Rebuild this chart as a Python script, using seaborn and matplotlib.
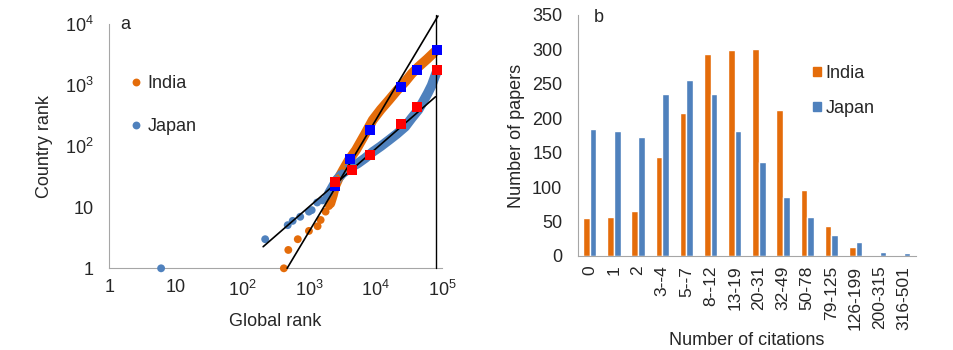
import matplotlib
matplotlib.use("Agg")
import matplotlib.pyplot as plt
import seaborn as sns
import pandas as pd
from matplotlib.patches import Patch

# Colours and fonts, Excel-like look
ORANGE = "#E46C0A"
BLUE = "#4F81BD"
GREY = "#A6A6A6"

sns.set_style("white")
plt.rcParams['font.family'] = ['Liberation Sans', 'DejaVu Sans']
plt.rcParams['mathtext.default'] = 'regular'
FS = 13

# ---- panel a : country rank vs global rank ----
india_sparse_x = [420, 490, 680, 1000, 1350, 1500, 1780, 2000]
india_sparse_y = [1, 2, 3, 4.1, 4.9, 6.2, 8.5, 10.5]
india_dense_x = [2100, 2300, 2470, 2800, 3270, 4000, 5100, 7000, 9100, 12000,
                 16000, 21000, 28000, 35000, 44000, 60000, 78000]
india_dense_y = [11.6, 16, 22, 30, 41, 60, 87, 160, 270, 400,
                 575, 820, 1150, 1550, 2000, 2700, 3550]

japan_sparse_x = [6, 220, 480, 570, 740, 1000, 1100, 1330, 1600, 1860]
japan_sparse_y = [1, 3, 5.1, 6, 7, 8.5, 9, 12, 13, 15]
japan_dense_x = [2000, 2600, 3200, 4100, 5500, 7000, 9100, 12000, 16000, 21000,
                 28000, 35000, 44000, 52000, 61000, 70000, 78000, 84000]
japan_dense_y = [17, 28, 36, 44, 53, 64, 81, 100, 127, 160,
                 210, 290, 395, 540, 740, 1000, 1380, 1700]

# binned squares
blue_sq_x = [2500, 4200, 8300, 24500, 42000, 84000]
blue_sq_y = [22, 62, 185, 950, 1780, 3800]
red_sq_x = [2500, 4400, 8300, 24500, 42000, 84000]
red_sq_y = [26, 41, 72, 233, 435, 1780]

# fitted power-law lines (end points) and the right-hand boundary
steep_x = [470, 87000]
steep_y = [1, 13700]
shallow_x = [205, 80000]
shallow_y = [2.26, 650]
edge_x = [80000, 80000]
edge_y = [1, 14000]

# ---- panel b : citation distribution ----
bins = ["0", "1", "2", "3--4", "5--7", "8--12", "13-19", "20-31", "32-49",
        "50-78", "79-125", "126-199", "200-315", "316-501"]
india_papers = [55, 57, 65, 144, 207, 294, 299, 301, 212, 96, 43, 13, 0, 0]
japan_papers = [184, 182, 173, 235, 255, 235, 181, 137, 85, 57, 30, 21, 6, 4]

fig = plt.figure(figsize=(9.54, 3.5), dpi=100)

# ================= panel a =================
ax = fig.add_axes([0.1146, 0.2334, 0.3487, 0.697])
ax.set_xscale("log")
ax.set_yscale("log")

dots = pd.DataFrame({
    "global": india_sparse_x + india_dense_x + japan_sparse_x + japan_dense_x,
    "country_rank": india_sparse_y + india_dense_y + japan_sparse_y + japan_dense_y,
    "country": ["India"] * (len(india_sparse_x) + len(india_dense_x))
               + ["Japan"] * (len(japan_sparse_x) + len(japan_dense_x)),
})
dense = pd.DataFrame({
    "global": india_dense_x + japan_dense_x,
    "country_rank": india_dense_y + japan_dense_y,
    "country": ["India"] * len(india_dense_x) + ["Japan"] * len(japan_dense_x),
})
pal = {"India": ORANGE, "Japan": BLUE}

# the densely packed part of each curve shows as a thick band
sns.lineplot(data=dense, x="global", y="country_rank", hue="country", palette=pal,
             estimator=None, sort=False, lw=7, legend=False, ax=ax)
sns.scatterplot(data=dots, x="global", y="country_rank", hue="country", palette=pal,
                s=32, linewidth=0, clip_on=False, ax=ax, zorder=3)

ax.plot(steep_x, steep_y, color="black", lw=1.2, clip_on=False, zorder=4)
ax.plot(shallow_x, shallow_y, color="black", lw=1.2, clip_on=False, zorder=4)
ax.plot(edge_x, edge_y, color="black", lw=1.0, clip_on=False, zorder=4)
ax.scatter(blue_sq_x, blue_sq_y, marker="s", s=55, color="#0000FF", lw=0, zorder=5, clip_on=False)
ax.scatter(red_sq_x, red_sq_y, marker="s", s=55, color="#FF0000", lw=0, zorder=5, clip_on=False)

ax.set_xlim(1, 1e5)
ax.set_ylim(1, 1e4)
decades = [1, 10, 100, 1000, 10000, 100000]
ax.set_xticks(decades, labels=["1", "10", r"$10^{2}$", r"$10^{3}$", r"$10^{4}$", r"$10^{5}$"])
ax.set_yticks(decades[:5], labels=["1", "10", r"$10^{2}$", r"$10^{3}$", r"$10^{4}$"])
ax.minorticks_off()
for s in ["top", "right"]:
    ax.spines[s].set_visible(False)
for s in ["left", "bottom"]:
    ax.spines[s].set_color(GREY)
ax.tick_params(axis="x", direction="out", length=4, color=GREY, labelsize=FS, pad=4)
ax.tick_params(axis="y", direction="out", length=4, color=GREY, labelsize=FS, pad=7)
ax.set_xlabel("Global rank", fontsize=FS, labelpad=10)
ax.set_ylabel("Country rank", fontsize=FS, labelpad=9)

ax.legend(loc="upper left", bbox_to_anchor=(0.038, 0.83), frameon=False, fontsize=FS,
          borderpad=0, handlelength=0.6, handletextpad=0.3, labelspacing=1.45,
          markerscale=1.0)
fig.text(0.126, 0.931, "a", fontsize=FS, va="center")

# ================= panel b =================
bx = fig.add_axes([0.6055, 0.2686, 0.3546, 0.6886])
bars = pd.DataFrame({
    "bin": bins * 2,
    "papers": india_papers + japan_papers,
    "country": ["India"] * len(bins) + ["Japan"] * len(bins),
})
sns.barplot(data=bars, x="bin", y="papers", hue="country", palette=pal,
            width=0.55, gap=0, saturation=1, legend=False, ax=bx)

bx.set_ylim(0, 350)
bx.set_yticks(range(0, 351, 50))
bx.set_xlim(-0.5, len(bins) - 0.5)
bx.set_xticks(range(len(bins)), labels=bins, rotation=90)
bx.set_xticks([i - 0.5 for i in range(len(bins) + 1)], minor=True)
bx.tick_params(axis="x", which="major", length=0, labelsize=FS - 0.5, pad=7)
bx.tick_params(axis="x", which="minor", length=4, color=GREY, direction="out")
bx.tick_params(axis="y", length=4, color=GREY, direction="out", labelsize=FS, pad=7)
for s in ["top", "right"]:
    bx.spines[s].set_visible(False)
for s in ["left", "bottom"]:
    bx.spines[s].set_color(GREY)
bx.set_xlabel("Number of citations", fontsize=FS, labelpad=2)
bx.set_ylabel("Number of papers", fontsize=FS, labelpad=5)

handles = [Patch(color=ORANGE, label="India"), Patch(color=BLUE, label="Japan")]
bx.legend(handles=handles, loc="upper left", bbox_to_anchor=(0.668, 0.83), frameon=False,
          fontsize=FS, borderpad=0, handlelength=0.45, handleheight=0.45,
          handletextpad=0.25, labelspacing=1.0)
fig.text(0.622, 0.951, "b", fontsize=FS, va="center")

fig.savefig("out.png", dpi=100)
